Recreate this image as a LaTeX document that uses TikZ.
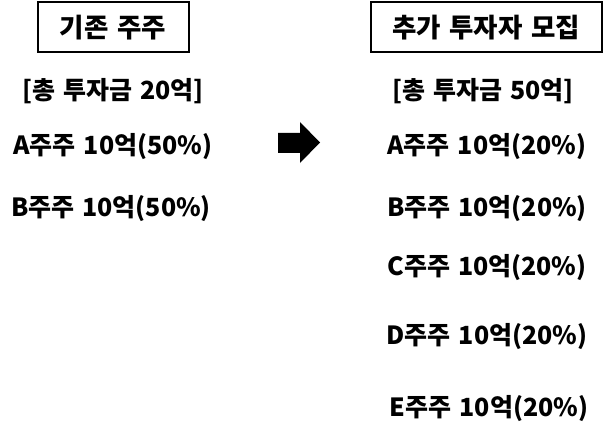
\documentclass[tikz,border=0pt]{standalone}
\usepackage{fontspec}
\setmainfont{Noto Sans CJK KR}[WordSpace={1.4,0,0}]
\tikzset{
  lbl/.style={font=\bfseries\fontsize{25}{29}\selectfont, inner sep=0pt, anchor=center, yshift=-1.5pt},
  headbox/.style={draw, line width=2pt, font=\bfseries\fontsize{26.5}{30}\selectfont, inner sep=0pt, anchor=center},
}
\begin{document}
\begin{tikzpicture}[x=1pt,y=-1pt]
\useasboundingbox (0,0) rectangle (605,433);
\node[headbox, minimum width=151pt, minimum height=50pt] (b1) at (113,27.5) {기존 주주};
\node[headbox, minimum width=231pt, minimum height=50pt] (b2) at (486,27.5) {추가 투자자 모집};
\node[lbl] (t1) at (113,90) {[총 투자금 20억]};
\node[lbl] (a1) at (113,145) {A주주 10억(50\%)};
\node[lbl] (bb1) at (111,207) {B주주 10억(50\%)};
\node[lbl] (t2) at (483,90) {[총 투자금 50억]};
\node[lbl] (a2) at (487,145) {A주주 10억(20\%)};
\node[lbl] (bb2) at (487,207) {B주주 10억(20\%)};
\node[lbl] (c2) at (487,266) {C주주 10억(20\%)};
\node[lbl] (d2) at (487,335) {D주주 10억(20\%)};
\node[lbl] (e2) at (489,407) {E주주 10억(20\%)};
\fill (278,133) -- (300,133) -- (300,122) -- (320,142.5) -- (300,163) -- (300,153) -- (278,153) -- cycle;
\end{tikzpicture}
\end{document}
